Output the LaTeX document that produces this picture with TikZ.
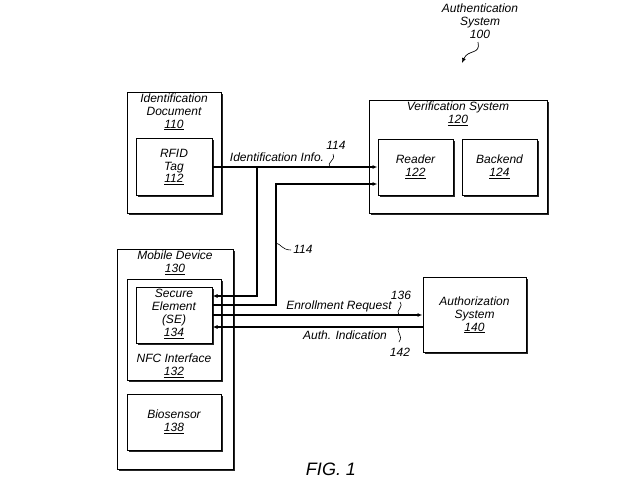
\documentclass[tikz,border=0pt]{standalone}
\usepackage{fontspec}
\setmainfont{Liberation Sans}
\usetikzlibrary{arrows.meta}
\usetikzlibrary{shadows}

\tikzset{
	box/.style={draw, fill=white, line width=1pt, inner sep=0pt,
		drop shadow={shadow xshift=1.6pt, shadow yshift=-1.6pt, fill=black!85, opacity=1}},
	lbl/.style={align=center, inner sep=1pt, font=\fontsize{12}{12.8}\selectfont\itshape},
	arr/.style={-{Latex[length=5pt,width=4pt]}, line width=1.1pt},
	tag/.style={line width=0.6pt}
}

\begin{document}
\begin{tikzpicture}[x=1pt, y=-1pt]
	\useasboundingbox[fill=white] (0,0) rectangle (640,483);
	
	% outer boxes
	\node[box, minimum width=94pt, minimum height=121pt] (iddoc) at (174,152.5) {};
	\node[box, minimum width=178pt, minimum height=113pt] (verif) at (458,156.5) {};
	\node[box, minimum width=116pt, minimum height=220pt] (mobile) at (175,359) {};
	\node[box, minimum width=103pt, minimum height=75pt] (auth) at (474.5,315) {};
	
	% inner boxes
	\node[box, minimum width=76pt, minimum height=57pt] (rfid) at (174,167) {};
	\node[box, minimum width=75pt, minimum height=56pt] (reader) at (415.5,167) {};
	\node[box, minimum width=75pt, minimum height=56pt] (backend) at (499.5,167) {};
	\node[box, minimum width=94pt, minimum height=101pt] (nfc) at (174,329.5) {};
	\node[box, minimum width=76pt, minimum height=56pt] (se) at (174,315) {};
	\node[box, minimum width=94pt, minimum height=56pt] (bio) at (174,422) {};
	
	% box texts
	\node[lbl, anchor=north] (iddoctxt) at ([yshift=-1pt]iddoc.north) {Identification\\Document\\\underline{110}};
	\node[lbl, anchor=north] (veriftxt) at ([yshift=-1pt]verif.north) {Verification System\\\underline{120}};
	\node[lbl, anchor=north] (mobiletxt) at ([yshift=-1pt]mobile.north) {Mobile Device\\\underline{130}};
	\node[lbl, anchor=south] (nfctxt) at ([yshift=2pt]nfc.south) {NFC Interface\\\underline{132}};
	\node[lbl] (rfidtxt) at (rfid) {RFID\\Tag\\\underline{112}};
	\node[lbl] (readertxt) at (reader) {Reader\\\underline{122}};
	\node[lbl] (backendtxt) at (backend) {Backend\\\underline{124}};
	\node[lbl] (setxt) at ([yshift=1pt]se.center) {Secure\\Element\\(SE)\\\underline{134}};
	\node[lbl] (biotxt) at (bio) {Biosensor\\\underline{138}};
	\node[lbl] (authtxt) at (auth) {Authorization\\System\\\underline{140}};
	
	% connections
	\coordinate (tap) at (257,167);
	\coordinate (bend) at (276,184);
	\draw[arr] (rfid.east) -- (reader.west);
	\draw[arr] (tap) |- ([yshift=19pt]se.east);
	\draw[arr] ([yshift=10pt]se.east) -| (bend) -- ([yshift=-17pt]reader.west);
	\draw[arr] (se.east) -- (auth.west);
	\draw[arr] ([yshift=-12pt]auth.west) -- ([yshift=-12pt]se.east);
	
	% labels and reference numbers
	\node[lbl] (idinfo) at (277,157) {Identification Info.};
	\node[lbl] (enroll) at (339,306) {Enrollment Request};
	\node[lbl] (authind) at (345,335) {Auth. Indication};
	
	\node[lbl] (n114a) at (336,145) {114};
	\draw[tag] (330,167) .. controls (326,162) and (336,161) .. (333,154);
	\node[lbl] (n114b) at (303,249) {114};
	\draw[tag] (276,243) .. controls (281,244) and (282,250) .. (291,250);
	\node[lbl] (n136) at (401,295) {136};
	\draw[tag] (399,315) .. controls (395,310) and (404,308) .. (400,302);
	\node[lbl] (n142) at (400,352) {142};
	\draw[tag] (399,327) .. controls (395,332) and (404,335) .. (399,342);
	
	\node[lbl] (sys) at (480,21) {Authentication\\System\\100};
	\draw[arr, line width=0.7pt] (478,42) .. controls (481,55) and (468,49) .. (462,63);
	
	\node[lbl, font=\fontsize{18}{20}\selectfont\itshape] (fig) at (331,469) {FIG. 1};
\end{tikzpicture}
\end{document}
